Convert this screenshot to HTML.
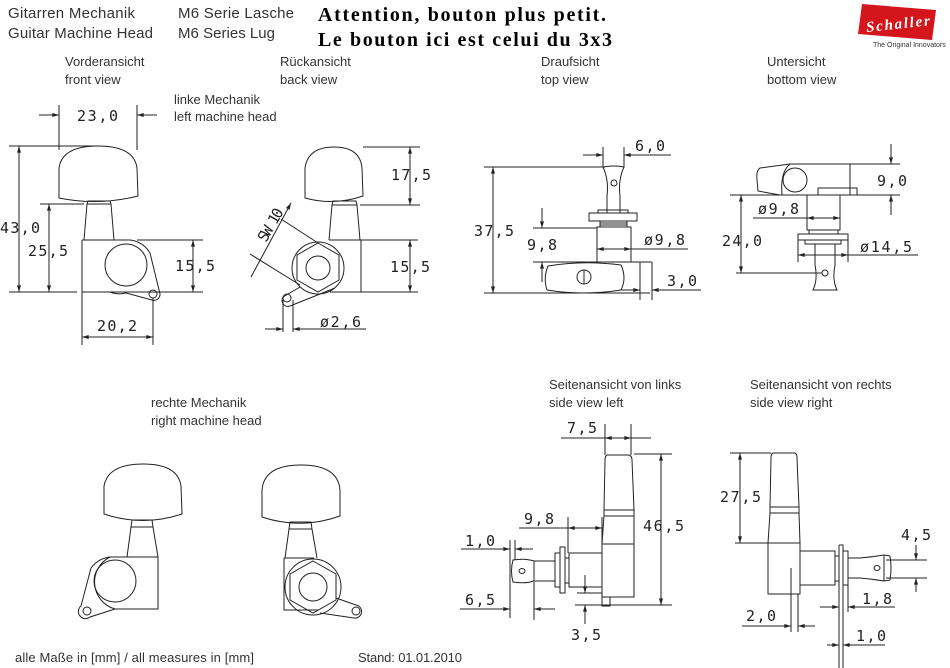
<!DOCTYPE html>
<html><head><meta charset="utf-8">
<style>
html,body{margin:0;padding:0;background:#fff;}
svg{display:block;}
.l{font-family:"Liberation Sans Narrow","Liberation Sans",sans-serif;font-size:13px;fill:#333;}
.h{font-family:"Liberation Sans Narrow","Liberation Sans",sans-serif;font-size:15px;fill:#333;}
.d{font-family:"DejaVu Sans Mono","Liberation Mono",monospace;font-size:15px;fill:#222;}
.a{font-family:"Liberation Serif",serif;font-size:20px;font-weight:bold;fill:#000;}
</style></head><body>
<svg width="950" height="668" viewBox="0 0 950 668" xmlns="http://www.w3.org/2000/svg">
<defs>
<marker id="ar" viewBox="0 0 10 6" refX="10" refY="3" markerWidth="8" markerHeight="4" orient="auto-start-reverse" markerUnits="userSpaceOnUse"><path d="M0,0L10,3L0,6z" fill="#222"/></marker>
</defs>
<rect width="950" height="668" fill="#fff"/>

<!-- header -->
<text class="h" x="8" y="18" textLength="127">Gitarren Mechanik</text>
<text class="h" x="8" y="38" textLength="145">Guitar Machine Head</text>
<text class="h" x="178" y="18" textLength="116">M6 Serie  Lasche</text>
<text class="h" x="178" y="38" textLength="97">M6 Series Lug</text>
<text class="a" x="318" y="21" textLength="288">Attention, bouton plus petit.</text>
<text class="a" x="318" y="46" textLength="294">Le bouton ici est celui du 3x3</text>
<!-- logo -->
<path d="M862,4 L936,10 L932,40 L858,34 Z" fill="#d4161c"/>
<text x="866" y="29" font-family="Liberation Serif,serif" font-style="italic" font-weight="bold" font-size="15" fill="#fff" textLength="64" transform="rotate(-6 895 25)">Schaller</text>
<text x="873" y="47" font-family="Liberation Sans,sans-serif" font-size="7" fill="#333">The Original Innovators</text>

<text class="l" x="65" y="66">Vorderansicht</text><text class="l" x="65" y="84">front view</text>
<text class="l" x="280" y="66">Rückansicht</text><text class="l" x="280" y="84">back view</text>
<text class="l" x="541" y="66">Draufsicht</text><text class="l" x="541" y="84">top view</text>
<text class="l" x="767" y="66">Untersicht</text><text class="l" x="767" y="84">bottom view</text>
<text class="l" x="174" y="104">linke Mechanik</text><text class="l" x="174" y="121">left machine head</text>
<text class="l" x="151" y="407">rechte Mechanik</text><text class="l" x="151" y="425">right machine head</text>
<text class="l" x="549" y="389">Seitenansicht von links</text><text class="l" x="549" y="407">side view left</text>
<text class="l" x="750" y="389">Seitenansicht von rechts</text><text class="l" x="750" y="407">side view right</text>
<text class="l" x="15" y="662" textLength="239">alle Maße in [mm] / all measures in [mm]</text>
<text class="l" x="358" y="662" textLength="104">Stand: 01.01.2010</text>

<g fill="none" stroke="#222" stroke-width="1">
<!-- FRONT VIEW -->
<path d="M59,198 L59,168 Q62,146 98,146 Q134,146 137,168 L138,196 Q98,206 59,198 Z"/>
<path d="M88,201 L110,201 L111,204 L87,204 Z"/>
<path d="M87,204 L84,240 M111,204 L114,240"/>
<path d="M82,240 L130,240 M82,240 L82,292 L110,292"/>
<circle cx="126" cy="265" r="21"/>
<path d="M130,240 A26,26 0 0 1 150,253 L160,294 A6,6 0 0 1 152,300 L126,293 A26,26 0 0 1 110,292"/>
<circle cx="153" cy="294" r="4"/>
<line x1="137" y1="240" x2="203" y2="240"/><line x1="82" y1="292" x2="203" y2="292"/>
<line x1="9" y1="146" x2="98" y2="146"/><line x1="9" y1="292" x2="77" y2="292"/>
<line x1="40" y1="204" x2="84" y2="204"/>
<line x1="19" y1="146" x2="19" y2="292" marker-start="url(#ar)" marker-end="url(#ar)"/>
<line x1="49" y1="204" x2="49" y2="292" marker-start="url(#ar)" marker-end="url(#ar)"/>
<line x1="59" y1="105" x2="59" y2="150"/><line x1="137" y1="105" x2="137" y2="150"/>
<line x1="39" y1="115" x2="59" y2="115" marker-end="url(#ar)"/><line x1="157" y1="115" x2="137" y2="115" marker-end="url(#ar)"/>
<line x1="193" y1="240" x2="193" y2="292" marker-start="url(#ar)" marker-end="url(#ar)"/>
<line x1="82" y1="292" x2="82" y2="345"/><line x1="153" y1="298" x2="153" y2="345"/>
<line x1="82" y1="337" x2="153" y2="337" marker-start="url(#ar)" marker-end="url(#ar)"/>

<!-- BACK VIEW -->
<path d="M305,198 L305,168 Q308,147 334,147 Q360,147 362,168 L363,196 Q334,206 305,198 Z"/>
<path d="M333,201 L356,201 L357,205 L332,205 Z"/>
<path d="M332,205 L329,240 M357,205 L360,240"/>
<path d="M329,240 L361,240 L361,292 L330,292"/>
<polygon points="318,243 339,255 339,280 318,292 297,280 297,255"/>
<circle cx="318" cy="268" r="26"/>
<circle cx="318" cy="268" r="12"/>
<path d="M300,287 L283,297 A6,6 0 0 0 290,306 L335,288"/>
<circle cx="287" cy="298" r="4"/>
<line x1="363" y1="147" x2="420" y2="147"/><line x1="360" y1="205" x2="420" y2="205"/>
<line x1="361" y1="240" x2="418" y2="240"/><line x1="361" y1="292" x2="418" y2="292"/>
<line x1="410" y1="147" x2="410" y2="205" marker-start="url(#ar)" marker-end="url(#ar)"/>
<line x1="410" y1="240" x2="410" y2="292" marker-start="url(#ar)" marker-end="url(#ar)"/>
<line x1="281" y1="219" x2="318" y2="243"/><line x1="250" y1="254" x2="300" y2="285"/>
<line x1="291" y1="203" x2="251" y2="277" marker-start="url(#ar)"/>
<line x1="283" y1="300" x2="283" y2="332"/><line x1="293" y1="300" x2="293" y2="332"/>
<line x1="265" y1="329" x2="283" y2="329" marker-end="url(#ar)"/><line x1="311" y1="329" x2="293" y2="329" marker-end="url(#ar)"/>
<line x1="293" y1="329" x2="366" y2="329"/>

<!-- TOP VIEW -->
<path d="M603,167 Q614,165 624,167 Q618,180 620,196 L620,213 L607,213 L607,196 Q609,180 603,167 Z"/>
<circle cx="614" cy="183" r="3"/>
<rect x="589" y="213" width="48" height="8"/><rect x="598" y="210" width="30" height="3"/>
<rect x="600" y="221" width="27" height="6"/>
<line x1="600" y1="223" x2="627" y2="223"/><line x1="600" y1="225" x2="627" y2="225"/>
<rect x="597" y="227" width="34" height="35"/>
<line x1="533" y1="262" x2="652" y2="262"/>
<path d="M640,262 L640,300 M652,262 L652,300"/>
<path d="M548,266 Q583,260 621,265 Q627,278 621,290 Q583,296 547,290 Q543,278 548,266 Z"/>
<circle cx="584" cy="277" r="7"/><line x1="584" y1="270" x2="584" y2="284"/>
<line x1="484" y1="167" x2="605" y2="167"/><line x1="484" y1="293" x2="650" y2="293"/>
<line x1="493" y1="167" x2="493" y2="293" marker-start="url(#ar)" marker-end="url(#ar)"/>
<line x1="533" y1="228" x2="597" y2="228"/>
<line x1="542" y1="208" x2="542" y2="228" marker-end="url(#ar)"/><line x1="542" y1="282" x2="542" y2="262" marker-end="url(#ar)"/>
<line x1="597" y1="249" x2="631" y2="249" marker-start="url(#ar)" marker-end="url(#ar)"/><line x1="631" y1="249" x2="688" y2="249"/>
<line x1="603" y1="147" x2="603" y2="167"/><line x1="624" y1="147" x2="624" y2="167"/>
<line x1="583" y1="155" x2="603" y2="155" marker-end="url(#ar)"/><line x1="644" y1="155" x2="624" y2="155" marker-end="url(#ar)"/><line x1="624" y1="155" x2="671" y2="155"/>
<line x1="620" y1="290" x2="640" y2="290" marker-end="url(#ar)"/><line x1="672" y1="290" x2="652" y2="290" marker-end="url(#ar)"/><line x1="652" y1="290" x2="701" y2="290"/>

<!-- BOTTOM VIEW -->
<path d="M790,164 L760,168 Q756,170 757,180 L758,191 L780,195"/>
<path d="M790,164 L850,164 L850,195"/>
<circle cx="795" cy="180" r="12"/>
<path d="M790,164 Q780,172 782,195"/>
<rect x="818" y="188" width="39" height="7"/>
<line x1="730" y1="195" x2="900" y2="195"/>
<rect x="807" y="195" width="33" height="35"/>
<rect x="809" y="230" width="29" height="4"/>
<rect x="798" y="234" width="50" height="6"/>
<rect x="805" y="240" width="36" height="4"/>
<path d="M798,240 L798,262 M848,240 L848,262"/>
<path d="M815,244 L815,265 Q818,280 813,290 L837,290 Q832,280 835,265 L835,244"/>
<circle cx="825" cy="273" r="3"/>
<line x1="850" y1="164" x2="900" y2="164"/>
<line x1="891" y1="144" x2="891" y2="164" marker-end="url(#ar)"/><line x1="891" y1="215" x2="891" y2="195" marker-end="url(#ar)"/>
<line x1="741" y1="195" x2="741" y2="273" marker-start="url(#ar)" marker-end="url(#ar)"/>
<line x1="736" y1="273" x2="822" y2="273"/>
<line x1="753" y1="218" x2="807" y2="218"/><line x1="807" y1="218" x2="840" y2="218" marker-start="url(#ar)" marker-end="url(#ar)"/>
<line x1="798" y1="255" x2="848" y2="255" marker-start="url(#ar)" marker-end="url(#ar)"/><line x1="848" y1="255" x2="918" y2="255"/>

<!-- SIDE VIEW LEFT -->
<path d="M607,455 L629,455 Q632,456 632,460 L634,510 L604,510 L605,460 Q605,456 607,455 Z"/>
<rect x="604" y="510" width="30" height="6"/>
<path d="M604,516 L602,544 M634,516 L634,544"/>
<rect x="602" y="544" width="32" height="53"/>
<rect x="602" y="597" width="8" height="9"/>
<rect x="569" y="553" width="33" height="34"/>
<rect x="565" y="558" width="4" height="25"/>
<rect x="560" y="547" width="5" height="46"/>
<rect x="555" y="553" width="5" height="34"/>
<path d="M555,561 L534,561 Q525,558 513,560 Q510,571 513,582 Q525,584 534,581 L555,581"/>
<line x1="534" y1="561" x2="534" y2="581"/>
<ellipse cx="522" cy="571" rx="3" ry="2.5"/>
<line x1="605" y1="424" x2="605" y2="455"/><line x1="631" y1="424" x2="631" y2="455"/>
<line x1="561" y1="438" x2="605" y2="438"/><line x1="605" y1="438" x2="631" y2="438" marker-start="url(#ar)" marker-end="url(#ar)"/><line x1="631" y1="438" x2="651" y2="438"/>
<line x1="634" y1="454" x2="672" y2="454"/><line x1="575" y1="605" x2="672" y2="605"/>
<line x1="661" y1="454" x2="661" y2="605" marker-start="url(#ar)" marker-end="url(#ar)"/>
<line x1="568" y1="517" x2="568" y2="553"/><line x1="602" y1="517" x2="602" y2="544"/>
<line x1="519" y1="528" x2="568" y2="528"/><line x1="568" y1="528" x2="602" y2="528" marker-start="url(#ar)" marker-end="url(#ar)"/>
<line x1="510" y1="540" x2="510" y2="618"/><line x1="515" y1="540" x2="515" y2="560"/>
<line x1="461" y1="549" x2="510" y2="549"/><line x1="492" y1="549" x2="510" y2="549" marker-end="url(#ar)"/><line x1="533" y1="549" x2="515" y2="549" marker-end="url(#ar)"/>
<line x1="534" y1="582" x2="534" y2="620"/>
<line x1="460" y1="609" x2="510" y2="609" marker-end="url(#ar)"/><line x1="555" y1="609" x2="534" y2="609" marker-end="url(#ar)"/>
<line x1="577" y1="593" x2="602" y2="593"/>
<line x1="585" y1="575" x2="585" y2="593" marker-end="url(#ar)"/><line x1="585" y1="624" x2="585" y2="605" marker-end="url(#ar)"/>

<!-- SIDE VIEW RIGHT -->
<path d="M773,453 L795,453 Q797,454 797,458 L799,507 L770,507 L771,458 Q771,454 773,453 Z"/>
<rect x="770" y="507" width="29" height="6"/>
<path d="M770,513 L768,543 M799,513 L800,543"/>
<rect x="768" y="543" width="32" height="51"/>
<rect x="800" y="551" width="35" height="34"/>
<rect x="835" y="556" width="4" height="25"/>
<path d="M839,545 L843,545 L843,668 M839,545 L839,668"/>
<rect x="843" y="551" width="5" height="34"/>
<path d="M848,558 L860,558 Q872,557 884,555 L890,556 Q892,568 890,580 L884,581 Q872,579 860,578 L848,578"/>
<line x1="884" y1="555" x2="884" y2="581"/>
<ellipse cx="877" cy="568" rx="3" ry="2.5"/>
<line x1="730" y1="453" x2="771" y2="453"/><line x1="735" y1="543" x2="768" y2="543"/>
<line x1="740" y1="453" x2="740" y2="543" marker-start="url(#ar)" marker-end="url(#ar)"/>
<line x1="886" y1="560" x2="927" y2="560"/><line x1="886" y1="578" x2="927" y2="578"/>
<line x1="916" y1="545" x2="916" y2="560" marker-end="url(#ar)"/><line x1="916" y1="592" x2="916" y2="578" marker-end="url(#ar)"/>
<line x1="791" y1="568" x2="791" y2="632"/><line x1="798" y1="594" x2="798" y2="632"/>
<line x1="742" y1="626" x2="791" y2="626" marker-end="url(#ar)"/><line x1="815" y1="626" x2="798" y2="626" marker-end="url(#ar)"/>
<line x1="848" y1="585" x2="848" y2="612"/>
<line x1="820" y1="607" x2="839" y2="607" marker-end="url(#ar)"/><line x1="866" y1="607" x2="848" y2="607" marker-end="url(#ar)"/><line x1="848" y1="607" x2="895" y2="607"/>
<line x1="827" y1="645" x2="839" y2="645" marker-end="url(#ar)"/><line x1="860" y1="645" x2="843" y2="645" marker-end="url(#ar)"/><line x1="843" y1="645" x2="885" y2="645"/>

<!-- RIGHT MACHINE HEADS -->
<path d="M104,514 L104,486 Q108,464 143,464 Q178,464 181,486 L182,514 Q143,527 104,514 Z"/>
<path d="M132,520 L152,520 L153,527 L131,527 Z"/>
<path d="M131,527 L127,557 M153,527 L158,557"/>
<path d="M110,557 L158,557 L158,609 L115,609"/>
<circle cx="115" cy="581" r="21"/>
<path d="M110,557 A28,28 0 0 0 91,568 L81,606 A6,6 0 0 0 90,617 L115,609 A28,28 0 0 1 110,557"/>
<circle cx="87" cy="611" r="4"/>
<path d="M262,517 L262,490 Q264,465 301,465 Q338,465 340,490 L340,516 Q301,530 262,517 Z"/>
<path d="M290,522 L311,522 L312,529 L289,529 Z"/>
<path d="M289,529 L285,558 M312,529 L317,558"/>
<path d="M284,558 L314,558 M284,558 L284,610 L318,610"/>
<polygon points="313,561 336,574 336,600 313,613 290,600 290,574"/>
<circle cx="313" cy="587" r="28"/>
<circle cx="313" cy="587" r="14"/>
<path d="M336,598 L356,605 A6,6 0 0 1 354,618 L320,613"/>
<circle cx="356" cy="611" r="4"/>
</g>

<!-- dimension texts -->
<g class="d">
<text x="0" y="233" textLength="40">43,0</text>
<text x="28" y="256" textLength="40">25,5</text>
<text x="77" y="121" textLength="41">23,0</text>
<text x="175" y="271" textLength="40">15,5</text>
<text x="97" y="331" textLength="40">20,2</text>
<text x="391" y="180" textLength="40">17,5</text>
<text x="390" y="272" textLength="40">15,5</text>
<text x="320" y="327" textLength="41">ø2,6</text>
<text transform="translate(266,243) rotate(-60)" textLength="36">SW 10</text>
<text x="474" y="236" textLength="40">37,5</text>
<text x="527" y="250" textLength="30">9,8</text>
<text x="644" y="245" textLength="41">ø9,8</text>
<text x="635" y="151" textLength="30">6,0</text>
<text x="667" y="286" textLength="30">3,0</text>
<text x="877" y="186" textLength="30">9,0</text>
<text x="722" y="246" textLength="40">24,0</text>
<text x="758" y="214" textLength="41">ø9,8</text>
<text x="860" y="252" textLength="52">ø14,5</text>
<text x="567" y="433" textLength="30">7,5</text>
<text x="643" y="531" textLength="41">46,5</text>
<text x="524" y="524" textLength="30">9,8</text>
<text x="465" y="546" textLength="30">1,0</text>
<text x="465" y="605" textLength="30">6,5</text>
<text x="571" y="640" textLength="30">3,5</text>
<text x="720" y="502" textLength="41">27,5</text>
<text x="901" y="540" textLength="30">4,5</text>
<text x="862" y="604" textLength="30">1,8</text>
<text x="746" y="621" textLength="30">2,0</text>
<text x="856" y="641" textLength="30">1,0</text>
</g>
</svg>
</body></html>
